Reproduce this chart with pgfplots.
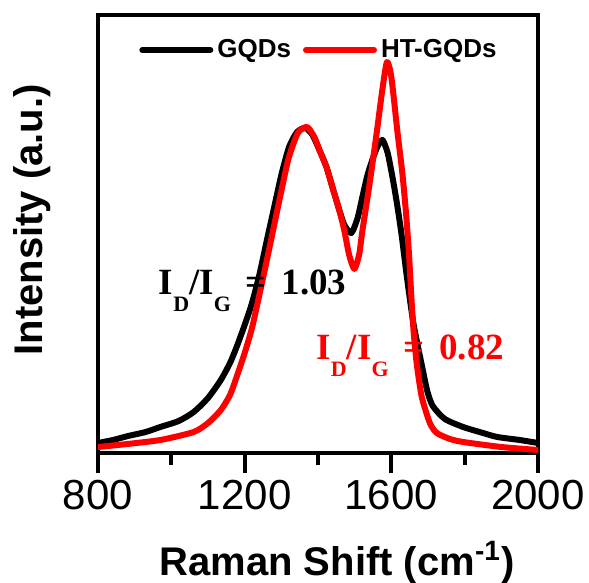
\documentclass[border=0pt]{standalone}
\usepackage{fontspec}
\setmainfont{Liberation Sans}
\newfontfamily\timesfont{Liberation Serif}
\usepackage{pgfplots}
\pgfplotsset{compat=1.18}
\newcommand{\sub}[1]{\raisebox{-8.5pt}{\fontsize{11}{11}\selectfont #1}}

\begin{document}
\begin{tikzpicture}
\begin{axis}[
    scale only axis, width=220pt, height=219pt,
    xmin=800, xmax=2000, ymin=0, ymax=438,
    axis line style={line width=2pt},
    ytick=\empty,
    xtick={800,1200,1600,2000},
    minor xtick={1000,1400,1800},
    xtick pos=bottom, tick align=outside,
    major tick length=10pt, minor tick length=6pt,
    tick style={line width=2pt, black},
    tick label style={font=\fontsize{21}{21}\selectfont},
    /pgf/number format/assume math mode=true,
    /pgf/number format/1000 sep={},
    xlabel={Raman Shift (cm\textsuperscript{-1})},
    ylabel={Intensity (a.u.)},
    label style={font=\bfseries\fontsize{20}{20}\selectfont},
    xlabel style={at={(axis description cs:0.543,-0.279)}, anchor=base},
    ylabel style={at={(axis description cs:-0.127,0.532)}, anchor=base},
    legend columns=2,
    legend style={at={(rel axis cs:0.093,0.92)}, anchor=west, draw=none, fill=none,
        inner sep=0pt, font=\bfseries\fontsize{13}{13}\selectfont,
        /tikz/every even column/.append style={column sep=4pt}},
    legend image code/.code={\draw[#1] (0pt,0pt) -- (34pt,0pt);},
]
% GQDs
\addplot[black, line width=3pt, line join=round, line cap=round, smooth, tension=0.4] coordinates {
  (800,10)(841,13)(882,17)(930,21)(970,26)(1020,32)(1061,41)(1100,55)(1135,73)
  (1160,90)(1178,106)(1200,128)(1220,150)(1240,178)(1260,212)(1280,245)(1300,278)
  (1321,306)(1343,321)(1365,325)(1385,318)(1405,302)(1423,286)(1440,265)(1458,243)
  (1472,228)(1491,220)(1508,235)(1521,256)(1535,278)(1549,294)(1563,307)(1576,313)
  (1590,300)(1604,274)(1616,248)(1628,218)(1641,180)(1660,130)(1683,88)(1698,62)
  (1713,47)(1746,34)(1796,26)(1850,20)(1889,16)(1950,13)(2000,10)
};
\addlegendentry{GQDs}
% HT-GQDs
\addplot[red, line width=3pt, line join=round, line cap=round, smooth, tension=0.4] coordinates {
  (800,6)(880,9)(970,13)(1061,21)(1100,30)(1135,43)(1160,58)(1178,76)(1200,100)
  (1220,125)(1240,158)(1260,192)(1280,227)(1300,262)(1320,295)(1345,320)(1370,326)
  (1390,316)(1405,302)(1423,286)(1440,265)(1458,243)(1472,222)(1485,198)(1499,184)
  (1512,198)(1521,222)(1541,270)(1560,320)(1575,362)(1588,391)(1600,376)(1617,320)
  (1630,280)(1640,240)(1648,200)(1654,160)(1660,125)(1669,90)(1683,56)(1705,30)
  (1724,20)(1760,14)(1796,11)(1900,6)(2000,3)
};
\addlegendentry{HT-GQDs}
\node[anchor=base west, inner sep=0pt, font=\timesfont\bfseries\fontsize{18.5}{18.5}\selectfont]
  at (axis cs:965,158) {I\sub{D}/I\sub{G}\hspace{0.4em}=\hspace{0.4em}1.03};
\node[anchor=base west, inner sep=0pt, text=red, font=\timesfont\bfseries\fontsize{18.5}{18.5}\selectfont]
  at (axis cs:1395,93) {I\sub{D}/I\sub{G}\hspace{0.4em}=\hspace{0.4em}0.82};
\end{axis}
\pgfresetboundingbox
\path (-49pt,-65pt) rectangle (245.5pt,226.5pt);
\end{tikzpicture}
\end{document}
